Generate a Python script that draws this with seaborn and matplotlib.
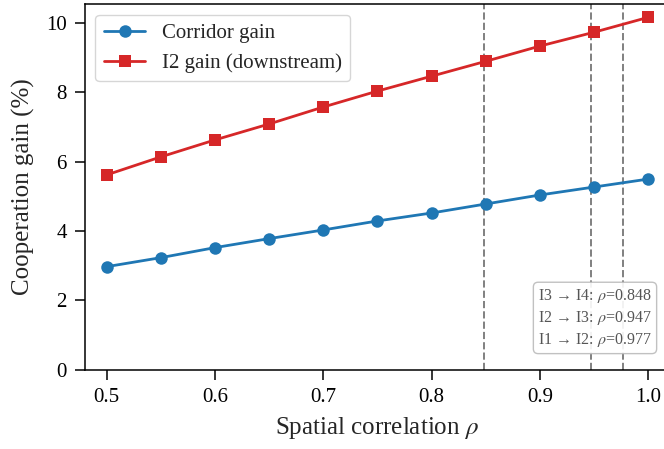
import seaborn as sns
import matplotlib.pyplot as plt
import numpy as np
import pandas as pd

# spatial correlation values and gains
rho = [0.5, 0.55, 0.6, 0.65, 0.7, 0.75, 0.8, 0.85, 0.9, 0.95, 1.0]
corridor_gain = [2.97, 3.23, 3.52, 3.78, 4.03, 4.29, 4.52, 4.78, 5.04, 5.27, 5.50]
i2_gain = [5.62, 6.14, 6.63, 7.09, 7.58, 8.04, 8.47, 8.90, 9.34, 9.74, 10.17]

# measured link correlations
links = ['I3 \u2192 I4', 'I2 \u2192 I3', 'I1 \u2192 I2']
link_rho = [0.848, 0.947, 0.977]

sns.set_style('ticks')
plt.rcParams['font.family'] = ['Liberation Serif', 'DejaVu Serif']
plt.rcParams['mathtext.fontset'] = 'stix'

df = pd.DataFrame({'rho': rho, 'corridor': corridor_gain, 'i2': i2_gain})

fig = plt.figure(figsize=(6.64, 4.49), dpi=100)
ax = fig.add_axes([0.128, 0.177, 0.881, 0.813])

for r in link_rho:
    ax.axvline(r, color='gray', linestyle='--', linewidth=1.4, zorder=1)

sns.lineplot(data=df, x='rho', y='corridor', ax=ax, color='#1f77b4', marker='o',
             markersize=9, markeredgewidth=0, linewidth=2, label='Corridor gain')
sns.lineplot(data=df, x='rho', y='i2', ax=ax, color='#d62728', marker='s',
             markersize=8.5, markeredgewidth=0, linewidth=2, label='I2 gain (downstream)')

ax.set_xlim(0.48, 1.02)
ax.set_ylim(0, 10.54)
ax.set_xticks([0.5, 0.6, 0.7, 0.8, 0.9, 1.0])
ax.set_xticklabels(['0.5', '0.6', '0.7', '0.8', '0.9', '1.0'])
ax.set_yticks([0, 2, 4, 6, 8, 10])
ax.tick_params(labelsize=15, length=7, width=1.1, pad=6, colors='black')
for s in ax.spines.values():
    s.set_linewidth(1.1)
    s.set_color('black')

ax.set_xlabel(r'Spatial correlation $\rho$', fontsize=18, labelpad=6)
ax.set_ylabel('Cooperation gain (%)', fontsize=18, labelpad=8)

ax.legend(loc='upper left', fontsize=15, frameon=True, edgecolor='#cccccc',
          fancybox=True, borderpad=0.4, handlelength=2.0)

txt = '\n'.join(f'{l}: $\\rho$={v:.3f}' for l, v in zip(links, link_rho))
ax.text(0.969, 0.226, txt, transform=ax.transAxes, fontsize=11.5, color='#555555',
        ha='right', va='top', linespacing=1.3,
        bbox=dict(boxstyle='round,pad=0.3', facecolor='white', edgecolor='#bbbbbb', alpha=0.9))

fig.savefig('out.png', dpi=100)
